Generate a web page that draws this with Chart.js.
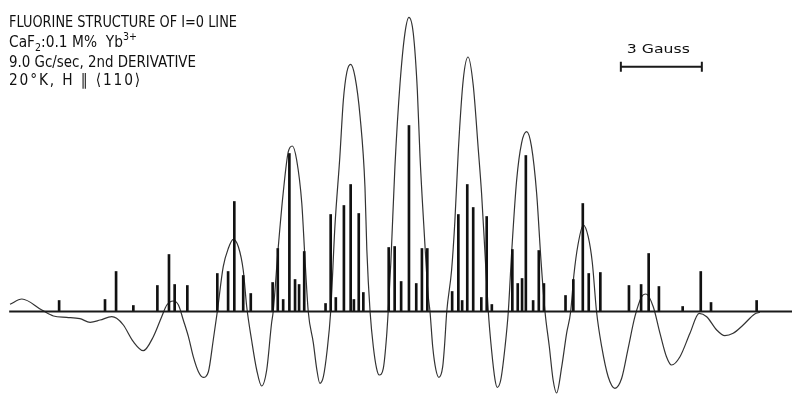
<!DOCTYPE html>
<html>
<head>
<meta charset="utf-8">
<script src="https://cdn.jsdelivr.net/npm/chart.js@4.4.1/dist/chart.umd.min.js"></script>
<style>
  html, body { margin: 0; padding: 0; background: #fff; }
  canvas { display: block; }
</style>
</head>
<body>
<canvas id="spectrum" width="792" height="394"></canvas>
<script>
// field in Gauss, measured from the centre line
const stickField = [-12.96, -11.26, -10.85, -10.21, -9.32, -8.89, -8.68, -8.21,
  -7.10, -6.70, -6.47, -6.14, -5.86,
  -5.05, -4.86, -4.66, -4.43, -4.22, -4.07, -3.88,
  -3.09, -2.90, -2.71, -2.41, -2.16, -2.04, -1.86, -1.69,
  -0.75, -0.53, -0.29, 0, 0.27, 0.48, 0.68,
  1.60, 1.83, 1.97, 2.16, 2.38, 2.68, 2.88, 3.07,
  3.83, 4.03, 4.19, 4.33, 4.60, 4.81, 5.00,
  5.80, 6.09, 6.44, 6.66, 7.09,
  8.15, 8.60, 8.88, 9.26, 10.14, 10.81, 11.19, 12.88];
const stickHeight = [11, 12, 40, 6, 26, 57, 27, 26,
  38, 40, 110, 36, 18,
  29, 63, 12, 158, 32, 27, 60,
  8, 97, 14, 106, 127, 12, 98, 19,
  64, 65, 30, 186, 28, 63, 63,
  20, 97, 11, 127, 104, 14, 95, 7,
  62, 28, 33, 156, 11, 61, 28,
  16, 32, 108, 38, 39,
  26, 27, 58, 25, 5, 40, 9, 11];

// recorded 2nd derivative trace
const curveField = [-14.78, -14.34, -13.60, -13.17, -12.68, -12.19, -11.81, -11.44, -11.01, -10.83,
  -10.58, -10.21, -9.84, -9.47, -9.16, -8.97, -8.73, -8.54, -8.36, -8.17,
  -7.99, -7.80, -7.62, -7.43, -7.25, -7.10, -6.88, -6.69, -6.51, -6.32,
  -6.14, -6.01, -5.83, -5.64, -5.46, -5.27, -5.09, -5.03, -4.84, -4.66,
  -4.47, -4.32, -4.16, -3.97, -3.85, -3.73, -3.54, -3.42, -3.30, -3.17,
  -3.03, -2.90, -2.74, -2.56, -2.43, -2.30, -2.16, -2.00, -1.81, -1.63,
  -1.56, -1.44, -1.32, -1.20, -1.10, -0.95, -0.83, -0.77, -0.67, -0.52,
  -0.33, -0.15, 0, 0.16, 0.31, 0.41, 0.56, 0.71, 0.78, 0.88,
  1.00, 1.11, 1.25, 1.32, 1.40, 1.58, 1.70, 1.83, 2.01, 2.19,
  2.38, 2.57, 2.69, 2.81, 2.94, 3.06, 3.19, 3.27, 3.40, 3.56,
  3.68, 3.81, 3.99, 4.17, 4.36, 4.54, 4.73, 4.89, 5.04, 5.20,
  5.34, 5.47, 5.66, 5.84, 5.99, 6.11, 6.26, 6.46, 6.64, 6.79,
  6.95, 7.14, 7.38, 7.63, 7.88, 8.12, 8.37, 8.62, 8.78, 9.05,
  9.30, 9.54, 9.73, 10.04, 10.41, 10.75, 11.03, 11.40, 11.70, 12.01,
  12.38, 12.81, 13.00];
const curveSignal = [7.2, 12.5, 1.5, -4.5, -5.8, -7.2, -10.8, -8.5, -5.2, -6.8,
  -13.5, -30.2, -39.2, -25.2, -5.2, 6.5, 10.5, 6.5, -8.5, -25.2,
  -45.2, -60.2, -65.8, -60.2, -28.5, -0.2, 44.8, 63.2, 72.2, 64.8,
  41.5, 4.8, -28.5, -58.5, -74.5, -58.5, -11.8, -0.2, 64.8, 118.2,
  159.8, 165.5, 151.5, 108.2, 51.5, -0.2, -31.8, -56.8, -71.8, -65.2,
  -38.5, -0.2, 86.5, 154.8, 211.5, 239.5, 247.2, 234.8, 194.8, 124.8,
  61.5, -0.2, -35.2, -56.8, -63.5, -56.8, -25.2, -0.2, 49.5, 144.8,
  228.2, 278.2, 294.2, 278.2, 221.5, 154.8, 81.5, 16.5, -0.2, -35.2,
  -58.5, -65.8, -55.2, -33.5, -0.2, 41.5, 89.8, 161.5, 231.5, 254.5,
  226.5, 161.5, 118.2, 61.5, -0.2, -38.5, -68.5, -75.8, -68.5, -35.2,
  -0.2, 61.5, 131.5, 168.2, 179.8, 164.8, 118.2, 51.5, -0.2, -35.2,
  -68.5, -81.5, -55.2, -21.8, -0.2, 36.5, 66.5, 86.5, 74.8, 49.5,
  -0.2, -35.2, -65.2, -76.8, -66.8, -36.8, -5.2, 14.8, 17.5, 4.8,
  -21.8, -45.2, -53.5, -45.2, -21.8, -1.8, -5.2, -18.5, -24.2, -21.8,
  -13.5, -2.5, -0.8];

const baselineField = [-14.81, 14.19];
const scaleBarStart = 7.85;
const scaleBarGauss = 3;
const scaleBarLevel = 244.8;

const titleLines = [
  'FLUORINE STRUCTURE OF I=0 LINE',
  'CaF|2|:0.1 M%  Yb|3+',
  '9.0 Gc/sec, 2nd DERIVATIVE',
  '20°K, H ∥ ⟨110⟩'
];

const FONT = '"DejaVu Sans", sans-serif';
const MAX_SQUEEZE = 0.86;

// draws a line made of parts, fitted to a given width
function drawFitted(ctx, parts, x, y, width) {
  ctx.letterSpacing = '0px';
  let total = 0, count = 0;
  parts.forEach(p => {
    ctx.font = p.size + 'px ' + FONT;
    total += ctx.measureText(p.t).width;
    count += p.t.length;
  });
  const sx = Math.min(width / total, MAX_SQUEEZE);
  const gap = Math.max(0, (width / sx - total) / count);
  ctx.save();
  ctx.translate(x, y);
  ctx.scale(sx, 1);
  ctx.letterSpacing = gap.toFixed(2) + 'px';
  let cx = 0;
  parts.forEach(p => {
    ctx.font = p.size + 'px ' + FONT;
    ctx.fillText(p.t, cx, p.dy || 0);
    cx += ctx.measureText(p.t).width;
  });
  ctx.restore();
}

const annotate = {
  id: 'annotate',
  afterDraw(chart) {
    const ctx = chart.ctx;
    ctx.save();
    ctx.fillStyle = '#111';
    ctx.textBaseline = 'alphabetic';
    ctx.textAlign = 'left';

    drawFitted(ctx, [{t: titleLines[0], size: 16}], 9, 26.5, 228);
    const l2 = titleLines[1].split('|');
    drawFitted(ctx, [
      {t: l2[0], size: 16},
      {t: l2[1], size: 11, dy: 4},
      {t: l2[2], size: 16},
      {t: l2[3], size: 11, dy: -7}
    ], 9, 47, 128);
    drawFitted(ctx, [{t: titleLines[2], size: 16}], 9, 66.5, 187);
    drawFitted(ctx, [{t: titleLines[3], size: 16}], 9, 85, 133);

    // label over the scale bar
    const xs = chart.scales.x, ys = chart.scales.y;
    const mid = xs.getPixelForValue(scaleBarStart + scaleBarGauss / 2) - 3;
    const top = ys.getPixelForValue(scaleBarLevel) - 13.5;
    ctx.letterSpacing = '0px';
    ctx.font = '13px ' + FONT;
    const label = scaleBarGauss + ' Gauss';
    const w = ctx.measureText(label).width;
    ctx.translate(mid, top);
    ctx.scale(63 / w, 1);
    ctx.fillText(label, -w / 2, 0);
    ctx.restore();
  }
};

const sticks = stickField.map((x, i) => ({x: x, y: stickHeight[i]}));
const trace = curveField.map((x, i) => ({x: x, y: curveSignal[i]}));
const baseline = baselineField.map(x => ({x: x, y: 0}));
const scaleEnd = scaleBarStart + scaleBarGauss;
const scaleBar = [
  {x: scaleBarStart, y: scaleBarLevel + 5}, {x: scaleBarStart, y: scaleBarLevel - 5},
  {x: scaleBarStart, y: scaleBarLevel}, {x: scaleEnd, y: scaleBarLevel},
  {x: scaleEnd, y: scaleBarLevel + 5}, {x: scaleEnd, y: scaleBarLevel - 5}
];

new Chart(document.getElementById('spectrum'), {
  type: 'bar',
  data: {
    datasets: [
      {
        type: 'line',
        label: '2nd derivative',
        data: trace,
        borderColor: '#333',
        borderWidth: 1.2,
        pointRadius: 0,
        cubicInterpolationMode: 'monotone',
        order: 3
      },
      {
        type: 'bar',
        label: 'fluorine lines',
        data: sticks,
        backgroundColor: '#111',
        borderWidth: 0,
        barThickness: 2,
        order: 2
      },
      {
        type: 'line',
        label: 'baseline',
        data: baseline,
        borderColor: '#1a1a1a',
        borderWidth: 2,
        pointRadius: 0,
        order: 1
      },
      {
        type: 'line',
        label: '3 Gauss',
        data: scaleBar,
        borderColor: '#1a1a1a',
        borderWidth: 2,
        pointRadius: 0,
        tension: 0,
        order: 1
      }
    ]
  },
  options: {
    responsive: false,
    animation: false,
    layout: { padding: 0 },
    scales: {
      x: { type: 'linear', display: false, min: -15.15, max: 14.19, offset: false },
      y: { type: 'linear', display: false, min: -82.5, max: 311.5 }
    },
    plugins: {
      legend: { display: false },
      tooltip: { enabled: false }
    }
  },
  plugins: [annotate]
});
</script>
</body>
</html>
